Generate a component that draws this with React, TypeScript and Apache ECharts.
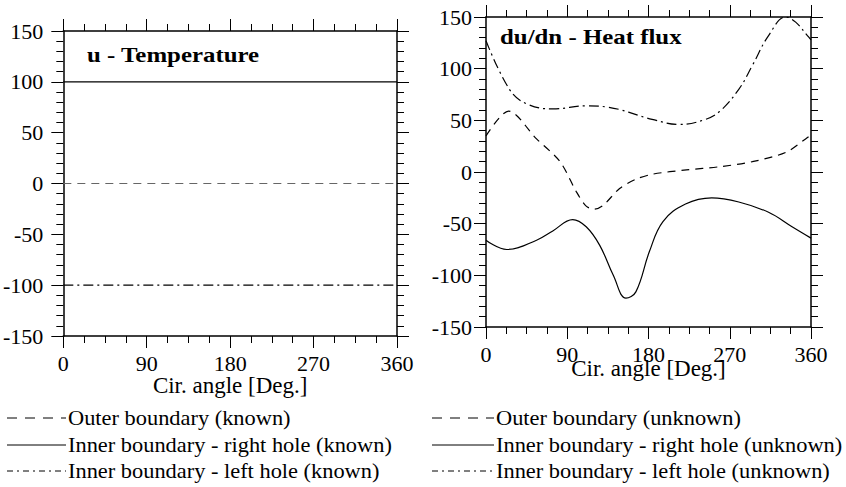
import React, { useEffect, useRef } from "react";
import * as echarts from "echarts";

// Left panel: u - Temperature (known)
const leftAngles = [0, 360];
const leftOuter = [0, 0];
const leftRightHole = [100, 100];
const leftLeftHole = [-100, -100];

// Right panel: du/dn - Heat flux (unknown)
const rRightHoleAngles = [0, 23, 56, 74, 96, 111, 126, 141, 155, 166, 181, 196, 221, 250, 280, 313, 339, 360];
const rRightHoleVals = [-66, -75, -66, -57, -46, -53, -71, -100, -122, -116, -77, -48, -31, -25, -29, -39, -53, -64];
const rOuterAngles = [0, 25, 56, 82, 100, 111, 120, 130, 148, 166, 185, 222, 258, 295, 332, 354, 360];
const rOuterVals = [35, 59, 32, 10, -19, -33, -36, -32, -16, -7, -2, 2, 5, 10, 19, 32, 36];
const rLeftHoleAngles = [0, 26, 45, 74, 111, 133, 184, 214, 240, 258, 280, 295, 313, 332, 343, 356, 360];
const rLeftHoleVals = [127, 80, 66, 61, 64, 63, 51, 46, 50, 58, 80, 103, 132, 150, 145, 132, 128];

const xTicks = [0, 90, 180, 270, 360];
const legendLeft = [
  "Outer boundary (known)",
  "Inner boundary - right hole (known)",
  "Inner boundary - left hole (known)",
];
const legendRight = [
  "Outer boundary (unknown)",
  "Inner boundary - right hole (unknown)",
  "Inner boundary - left hole (unknown)",
];

const FONT = "'Liberation Serif', 'Times New Roman', serif";
const DASH = [8, 6];
const DASHDOT = [10, 4, 2, 4];

function zip(a: number[], b: number[]) {
  return a.map((x, i) => [x, b[i]]);
}

export default function App() {
  const ref = useRef<HTMLDivElement>(null);
  useEffect(() => {
    document.body.style.margin = "0";
    const chart = echarts.init(ref.current!, null, { renderer: "svg" });
    const axisLine = { show: true, onZero: false, lineStyle: { color: "#000", width: 1.5 } };
    const tick = { show: true, inside: false, length: 12, lineStyle: { color: "#000", width: 1 } };
    const minorX = { show: true, splitNumber: 4, length: 7, lineStyle: { color: "#000", width: 1 } };
    const minorY = { show: true, splitNumber: 5, length: 7, lineStyle: { color: "#000", width: 1 } };
    const label = { color: "#000", fontFamily: FONT, fontSize: 22, margin: 16 };
    const mkX = (grid: number, pos: "top" | "bottom", labels: boolean) => ({
      type: "value",
      gridIndex: grid,
      position: pos,
      min: 0,
      max: 360,
      interval: 90,
      axisLine,
      axisTick: tick,
      minorTick: minorX,
      splitLine: { show: false },
      axisLabel: labels ? { ...label, formatter: (v: number) => (xTicks.includes(v) ? String(v) : "") } : { show: false },
      name: labels ? "Cir. angle [Deg.]" : "",
      nameLocation: "middle",
      nameGap: grid === 0 ? 38 : 30,
      nameMoveOverlap: false,
      nameTextStyle: { color: "#000", fontFamily: FONT, fontSize: 23 },
    });
    const mkY = (grid: number, pos: "left" | "right", labels: boolean) => ({
      type: "value",
      gridIndex: grid,
      position: pos,
      min: -150,
      max: 150,
      interval: 50,
      axisLine,
      axisTick: tick,
      minorTick: minorY,
      splitLine: { show: false },
      axisLabel: labels ? { ...label, margin: grid === 0 ? 20 : 14 } : { show: false },
    });
    const line = (xi: number, data: number[][], dash: any, color = "#000", smooth: any = 0.5) => ({
      type: "line",
      xAxisIndex: xi,
      yAxisIndex: xi,
      data,
      smooth,
      symbol: "none",
      lineStyle: { color, width: 1.2, type: dash },
    });
    const legendGraphics: any[] = [];
    const rowsY = [418, 445, 471];
    const dashes: any[] = [[10, 8], null, [6, 4, 2, 4]];
    [
      { x0: 7, x1: 66, tx: 68, texts: legendLeft },
      { x0: 432, x1: 494, tx: 496, texts: legendRight },
    ].forEach((col) => {
      col.texts.forEach((t, i) => {
        legendGraphics.push({
          type: "line",
          shape: { x1: col.x0, y1: rowsY[i], x2: col.x1, y2: rowsY[i] },
          style: { stroke: "#000", lineWidth: 1, lineDash: dashes[i] },
        });
        legendGraphics.push({
          type: "text",
          x: col.tx,
          y: rowsY[i],
          scaleX: 1.12,
          style: { text: t, fill: "#000", font: `20px ${FONT}`, textVerticalAlign: "middle" },
        });
      });
    });
    chart.setOption({
      animation: false,
      backgroundColor: "#fff",
      grid: [
        { left: 63, top: 31, width: 334, height: 305 },
        { left: 486, top: 17, width: 325, height: 310 },
      ],
      xAxis: [mkX(0, "bottom", true), mkX(0, "top", false), mkX(1, "bottom", true), mkX(1, "top", false)],
      yAxis: [mkY(0, "left", true), mkY(0, "right", false), mkY(1, "left", true), mkY(1, "right", false)],
      series: [
        line(0, zip(leftAngles, leftOuter), DASH, "#666", false),
        line(0, zip(leftAngles, leftRightHole), "solid", "#000", false),
        line(0, zip(leftAngles, leftLeftHole), DASHDOT, "#000", false),
        line(2, zip(rOuterAngles, rOuterVals), DASH, "#000", 0.3),
        line(2, zip(rRightHoleAngles, rRightHoleVals), "solid", "#000", 0.4),
        line(2, zip(rLeftHoleAngles, rLeftHoleVals), DASHDOT, "#000", 0.4),
      ],
      graphic: [
        {
          type: "text",
          x: 87,
          y: 55,
          scaleX: 1.13,
          style: { text: "u - Temperature", fill: "#000", font: `bold 22px ${FONT}`, textVerticalAlign: "middle" },
        },
        {
          type: "text",
          x: 500,
          y: 37,
          scaleX: 1.13,
          style: { text: "du/dn - Heat flux", fill: "#000", font: `bold 22px ${FONT}`, textVerticalAlign: "middle" },
        },
        ...legendGraphics,
      ],
    });
    return () => chart.dispose();
  }, []);
  return <div ref={ref} style={{ width: 846, height: 487 }} />;
}
